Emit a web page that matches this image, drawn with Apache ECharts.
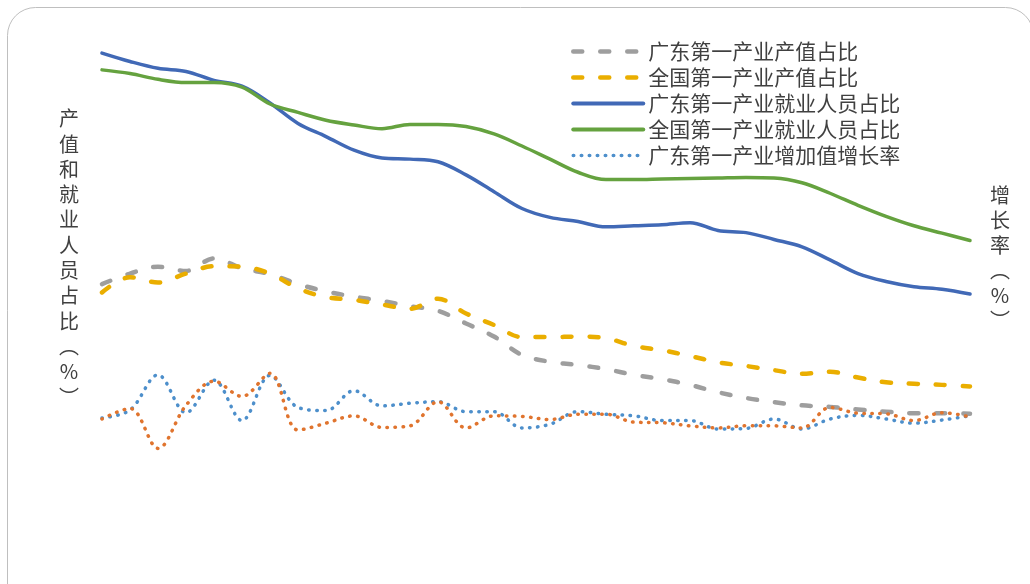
<!DOCTYPE html>
<html>
<head>
<meta charset="utf-8">
<script src="https://cdn.jsdelivr.net/npm/echarts@6/dist/echarts.min.js"></script>
<style>
html,body{margin:0;padding:0;background:#fff;}
#chart{width:1030px;height:584px;}
</style>
</head>
<body>
<div id="chart"></div>
<script>
// Years
const years = ['1978','1979','1980','1981','1982','1983','1984','1985','1986','1987','1988','1989','1990','1991','1992','1993',
               '1994','1995','1996','1997','1998','1999','2000','2001','2002','2003','2004','2005','2006','2007','2008','2009'];

// 广东第一产业产值占比 (%)
const gdOutputShare = [29.7,31.7,33.0,32.2,34.6,32.7,31.6,29.7,28.3,27.3,26.5,25.5,24.6,22.2,19.7,16.2,
                       14.9,14.3,13.5,12.4,11.6,10.5,9.1,8.0,7.2,6.6,6.3,5.8,5.4,5.1,5.1,5.0];
// 全国第一产业产值占比 (%)
const cnOutputShare = [28.1,31.0,30.0,31.7,33.1,33.0,31.7,28.9,27.2,26.7,25.8,25.0,26.9,24.1,21.9,19.6,
                       19.6,19.7,19.4,17.9,17.1,16.0,14.8,14.1,13.3,12.6,13.0,11.9,11.0,10.7,10.5,10.2];
// 广东第一产业就业人员占比 (%)
const gdEmpShare = [73.7,72.1,70.8,70.2,68.5,67.4,64.2,60.3,57.8,55.2,53.7,53.5,53.0,50.5,47.3,44.1,
                    42.4,41.6,40.6,40.8,41.0,41.4,39.9,39.5,38.2,36.8,34.3,31.7,30.2,29.2,28.7,27.8];
// 全国第一产业就业人员占比 (%)
const cnEmpShare = [70.5,69.8,68.7,68.1,68.1,67.2,64.0,62.4,60.9,60.0,59.3,60.1,60.1,59.7,58.3,56.0,
                    53.5,51.0,49.6,49.6,49.7,49.8,49.9,50.0,49.9,49.0,47.0,44.7,42.6,40.8,39.4,38.0];
// 广东第一产业增加值增长率 (%)
const gdGrowth = [4.2,5.7,12.4,5.2,11.4,3.7,12.3,6.2,5.6,9.4,6.5,7.0,7.3,5.4,5.4,2.3,
                  3.0,5.4,4.9,4.6,3.7,3.7,2.1,2.2,4.0,2.1,4.0,4.7,4.0,3.2,3.8,4.6];
// 全国第一产业增加值增长率 (%)
const cnGrowth = [4.0,6.0,-1.6,6.6,11.2,8.3,12.7,1.9,3.2,4.6,2.4,2.7,7.3,2.3,4.6,4.5,
                  3.9,4.9,4.9,3.4,3.3,2.7,2.3,2.7,2.7,2.3,6.2,5.1,5.0,3.7,5.2,4.4];

const names = ['广东第一产业产值占比','全国第一产业产值占比','广东第一产业就业人员占比','全国第一产业就业人员占比','广东第一产业增加值增长率','全国第一产业增加值增长率'];
const colors = ['#9E9E9E','#EAAE00','#4169B6','#65A23F','#4D8FCB','#E0742E'];
const dashes = [[9,18],[9,18],'solid','solid',[0.5,7.5],[0.5,7.5]];
const widths = [4.5,4.5,3.5,3.5,3.5,3.5];

const FONT = '"Noto Sans CJK SC", sans-serif';
const chart = echarts.init(document.getElementById('chart'), null, {renderer:'canvas'});

const yIdx = [0,0,0,0,1,1];
const series = names.map((name,i)=>({
  name, type:'line', data:[gdOutputShare,cnOutputShare,gdEmpShare,cnEmpShare,gdGrowth,cnGrowth][i],
  yAxisIndex:yIdx[i], smooth:0.35, symbol:'none', showSymbol:false,
  lineStyle:{color:colors[i], width:widths[i], type:dashes[i], cap:'round', join:'round'},
  itemStyle:{color:colors[i]}, silent:true
}));

chart.setOption({
  backgroundColor:'#ffffff',
  animation:false,
  grid:{left:102, right:60, top:20, bottom:39},
  xAxis:{type:'category', data:years, boundaryGap:false, show:false},
  yAxis:[
    {type:'value', min:-20, max:80, show:false, splitLine:{show:false}},
    {type:'value', min:-20, max:80, show:false, splitLine:{show:false}}
  ],
  legend:{
    orient:'vertical', left:566, top:36,
    data:names.slice(0,5).map((n,i)=>({
      name:n,
      itemStyle:{opacity:0, borderWidth:0},
      lineStyle:{color:colors[i], width:i<2?4.5:(i<4?4:3.5), type:dashes[i], cap:'round', opacity:1}
    })),
    itemWidth:70, itemHeight:14, itemGap:5,
    textStyle:{fontFamily:FONT, fontSize:21, lineHeight:21, color:'#404040'}
  },
  graphic:[
    {type:'rect', shape:{x:7.5, y:7.5, width:1026, height:640, r:28}, style:{fill:'none', stroke:'#BFBFBF', lineWidth:1}, silent:true, z:-1},
    {type:'text', x:69, y:106, style:{text:'产\n值\n和\n就\n业\n人\n员\n占\n比\n︵\n%\n︶', fontFamily:FONT, fontSize:20, lineHeight:25.3, fill:'#404040', align:'center'}},
    {type:'text', x:1000, y:183, style:{text:'增\n长\n率\n︵\n%\n︶', fontFamily:FONT, fontSize:20, lineHeight:25, fill:'#404040', align:'center'}}
  ],
  series
});
</script>
</body>
</html>
